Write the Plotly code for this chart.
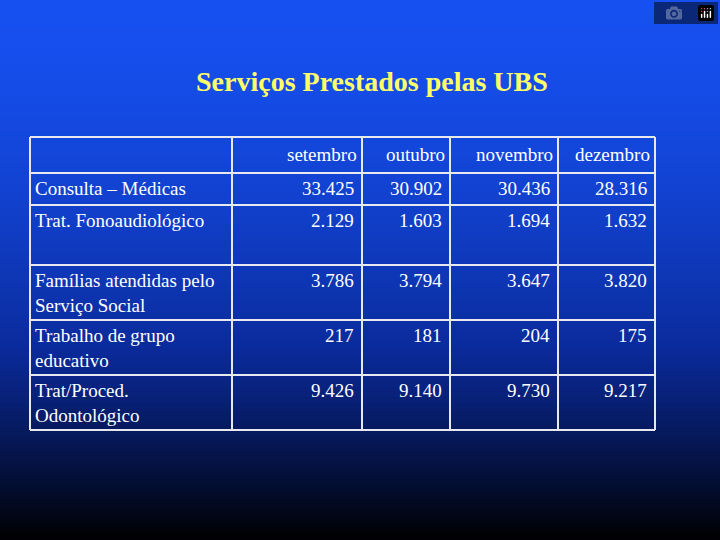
import numpy as np
import plotly.graph_objects as go

title = "Serviços Prestados pelas UBS"
months = ["setembro", "outubro", "novembro", "dezembro"]
services = ["Consulta – Médicas", "Trat. Fonoaudiológico",
            "Famílias atendidas pelo<br>Serviço Social",
            "Trabalho de grupo<br>educativo", "Trat/Proced.<br>Odontológico"]
values = [
    ["33.425", "30.902", "30.436", "28.316"],
    ["2.129", "1.603", "1.694", "1.632"],
    ["3.786", "3.794", "3.647", "3.820"],
    ["217", "181", "204", "175"],
    ["9.426", "9.140", "9.730", "9.217"],
]

# layout in pixel coordinates
row_lines = [137, 173, 205, 265, 320, 375, 430]
col_lines = [30, 232, 362, 450, 558, 655]

fig = go.Figure()

# background gradient: bright blue at top fading to black
ys = np.linspace(0, 540, 60)
shade = np.clip(1 - (ys / 540) ** 1.6, 0, 1)
fig.add_trace(go.Heatmap(
    x=[0, 720], y=ys, z=np.column_stack([shade, shade]),
    colorscale=[[0, "#000000"], [0.5, "#0a2a9a"], [1, "#1650f0"]],
    showscale=False, hoverinfo="skip", zsmooth="best"))

font_serif = "Liberation Serif, Times New Roman, serif"

def label(x, y, text, anchor, size=19, color="white"):
    fig.add_annotation(x=x, y=y, text=text, showarrow=False,
                       xanchor=anchor, yanchor="top", align="left",
                       font=dict(family=font_serif, size=size, color=color))

label(372, 64, "<b>" + title + "</b>", "center", size=28, color="#ffff66")

# table grid
for y in row_lines:
    fig.add_shape(type="line", x0=col_lines[0], x1=col_lines[-1], y0=y, y1=y,
                  line=dict(color="#e8e8f0", width=2))
for x in col_lines:
    fig.add_shape(type="line", x0=x, x1=x, y0=row_lines[0], y1=row_lines[-1],
                  line=dict(color="#e8e8f0", width=2))

for j, m in enumerate(months):
    label(col_lines[j + 2] - 3, row_lines[0] + 5, m, "right")

for i, s in enumerate(services):
    top = row_lines[i + 1] + 3
    label(col_lines[0] + 3, top, s, "left")
    for j, v in enumerate(values[i]):
        label(col_lines[j + 2] - 6, top, v, "right")

fig.update_xaxes(range=[0, 720], visible=False, fixedrange=True)
fig.update_yaxes(range=[540, 0], visible=False, fixedrange=True)
fig.update_layout(width=720, height=540, margin=dict(l=0, r=0, t=0, b=0),
                  plot_bgcolor="black", paper_bgcolor="black", showlegend=False)

fig.write_html("out.html", post_script="document.body.style.margin='0';")
